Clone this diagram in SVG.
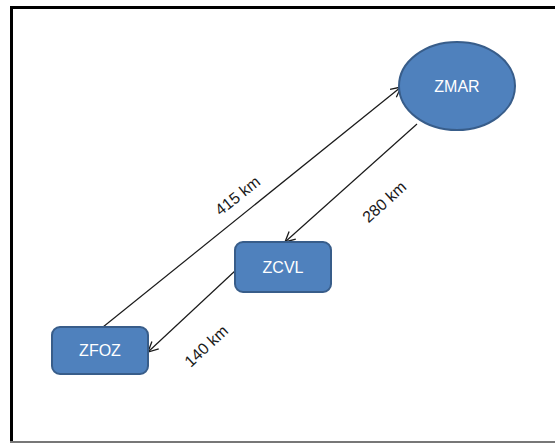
<svg xmlns="http://www.w3.org/2000/svg" width="555" height="443" viewBox="0 0 555 443">
  <style>
    .node { fill: #4f81bd; stroke: #385d8a; stroke-width: 2; }
    .node-label { font-family: "Liberation Sans", Arial, sans-serif; font-size: 16px; fill: #ffffff; text-anchor: middle; dominant-baseline: central; }
    .edge { stroke: #1a1a1a; stroke-width: 1.2; fill: none; marker-end: url(#arrow); }
    .edge-label { font-family: "Liberation Sans", Arial, sans-serif; font-size: 16px; fill: #1a1a1a; text-anchor: middle; }
  </style>
  <defs>
    <marker id="arrow" viewBox="0 0 12 12" refX="11" refY="6" markerWidth="12" markerHeight="12" markerUnits="userSpaceOnUse" orient="auto">
      <path d="M1,1 L11,6 L1,11" fill="none" stroke="#1a1a1a" stroke-width="1.3"/>
    </marker>
  </defs>

  <rect width="555" height="443" fill="#ffffff"/>

  <!-- frame -->
  <g id="frame">
    <line x1="10" y1="7.5" x2="555" y2="7.5" stroke="#000" stroke-width="3"/>
    <line x1="11.5" y1="6" x2="11.5" y2="443" stroke="#000" stroke-width="3"/>
    <line x1="10" y1="442" x2="555" y2="442" stroke="#777" stroke-width="2"/>
  </g>

  <!-- connectors -->
  <g id="connectors">
    <line class="edge" x1="103" y1="327" x2="401" y2="87"/>
    <line class="edge" x1="417" y1="124" x2="285" y2="242"/>
    <line class="edge" x1="236" y1="270" x2="148" y2="352"/>
    <text class="edge-label" transform="translate(241,200) rotate(-38.6)">415 km</text>
    <text class="edge-label" transform="translate(388,206) rotate(-42)">280 km</text>
    <text class="edge-label" transform="translate(210,350) rotate(-43)">140 km</text>
  </g>

  <g id="ZMAR">
    <ellipse class="node" cx="457" cy="86" rx="58" ry="44"/>
    <text class="node-label" x="457" y="86">ZMAR</text>
  </g>

  <g id="ZCVL">
    <rect class="node" x="235" y="242" width="96" height="50" rx="8"/>
    <text class="node-label" x="283" y="267">ZCVL</text>
  </g>

  <g id="ZFOZ">
    <rect class="node" x="52" y="327" width="96" height="47" rx="8"/>
    <text class="node-label" x="100" y="350.5">ZFOZ</text>
  </g>
</svg>
